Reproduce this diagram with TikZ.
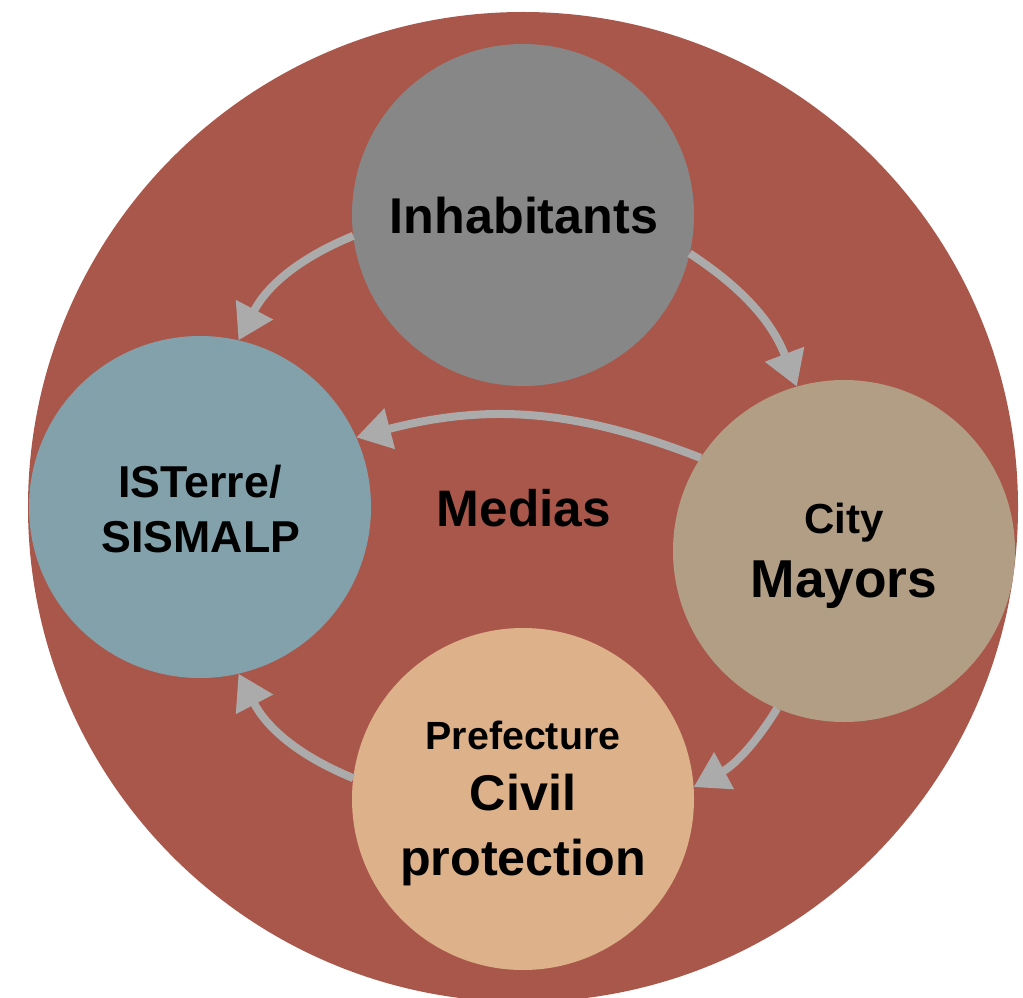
\documentclass[tikz,border=0pt]{standalone}
\usepackage{fontspec}
\setmainfont{Liberation Sans}
\usetikzlibrary{arrows.meta}

\definecolor{ringred}{HTML}{A9574A}
\definecolor{inhgray}{HTML}{878787}
\definecolor{istblue}{HTML}{82A1AB}
\definecolor{maytan}{HTML}{B19E85}
\definecolor{prepeach}{HTML}{DDB18A}
\definecolor{arrowgray}{HTML}{ABABAB}

\begin{document}
\begin{tikzpicture}[x=0.75pt,y=-0.75pt,
  disc/.style={circle,minimum size=256.5pt,inner sep=0pt,outer sep=0pt},
  lbl/.style={anchor=base,inner sep=0pt,outer sep=0pt,text=black},
  flow/.style={draw=arrowgray,line width=6pt,-{Triangle[length=26pt,width=30pt]}}]
\useasboundingbox (0,0) rectangle (1023,998);
\clip (0,0) rectangle (1023,998);

% outer ring
\node[circle,fill=ringred,minimum size=742.5pt,inner sep=0pt,outer sep=0pt] (ring) at (523,507) {};

% actors
\node[disc,fill=inhgray]  (inh) at (523,215) {};
\node[disc,fill=istblue]  (ist) at (200,507) {};
\node[disc,fill=maytan]   (may) at (844,551) {};
\node[disc,fill=prepeach] (pre) at (523,799) {};

% labels
\node[lbl,font=\bfseries\fontsize{37.7}{40}\selectfont] (tinh) at (524,234) {Inhabitants};
\node[lbl,font=\bfseries\fontsize{38.5}{40}\selectfont] (tmed) at (524,526) {Medias};
\node[lbl,font=\bfseries\fontsize{33.5}{36}\selectfont] (tist1) at (200,497) {ISTerre/};
\node[lbl,font=\bfseries\fontsize{33.5}{36}\selectfont] (tist2) at (201,552) {SISMALP};
\node[lbl,font=\bfseries\fontsize{31.5}{34}\selectfont] (tmay1) at (844,533) {City};
\node[lbl,font=\bfseries\fontsize{40}{44}\selectfont]   (tmay2) at (844,597) {Mayors};
\node[lbl,font=\bfseries\fontsize{29.5}{32}\selectfont] (tpre1) at (523,749) {Prefecture};
\node[lbl,font=\bfseries\fontsize{37.7}{40}\selectfont] (tpre2) at (523,810) {Civil};
\node[lbl,font=\bfseries\fontsize{37.7}{40}\selectfont] (tpre3) at (523,875) {protection};

% information flows
\draw[flow] (inh.187) to[bend right=20] (ist.77);
\draw[flow] (inh.-13) to[bend left=18] (may.106);
\draw[flow] (may.147) to[bend right=18] (ist.24);
\draw[flow] (may.247) to[bend left=15] (pre.4);
\draw[flow] (pre.173) to[bend left=20] (ist.-77);
\end{tikzpicture}
\end{document}
